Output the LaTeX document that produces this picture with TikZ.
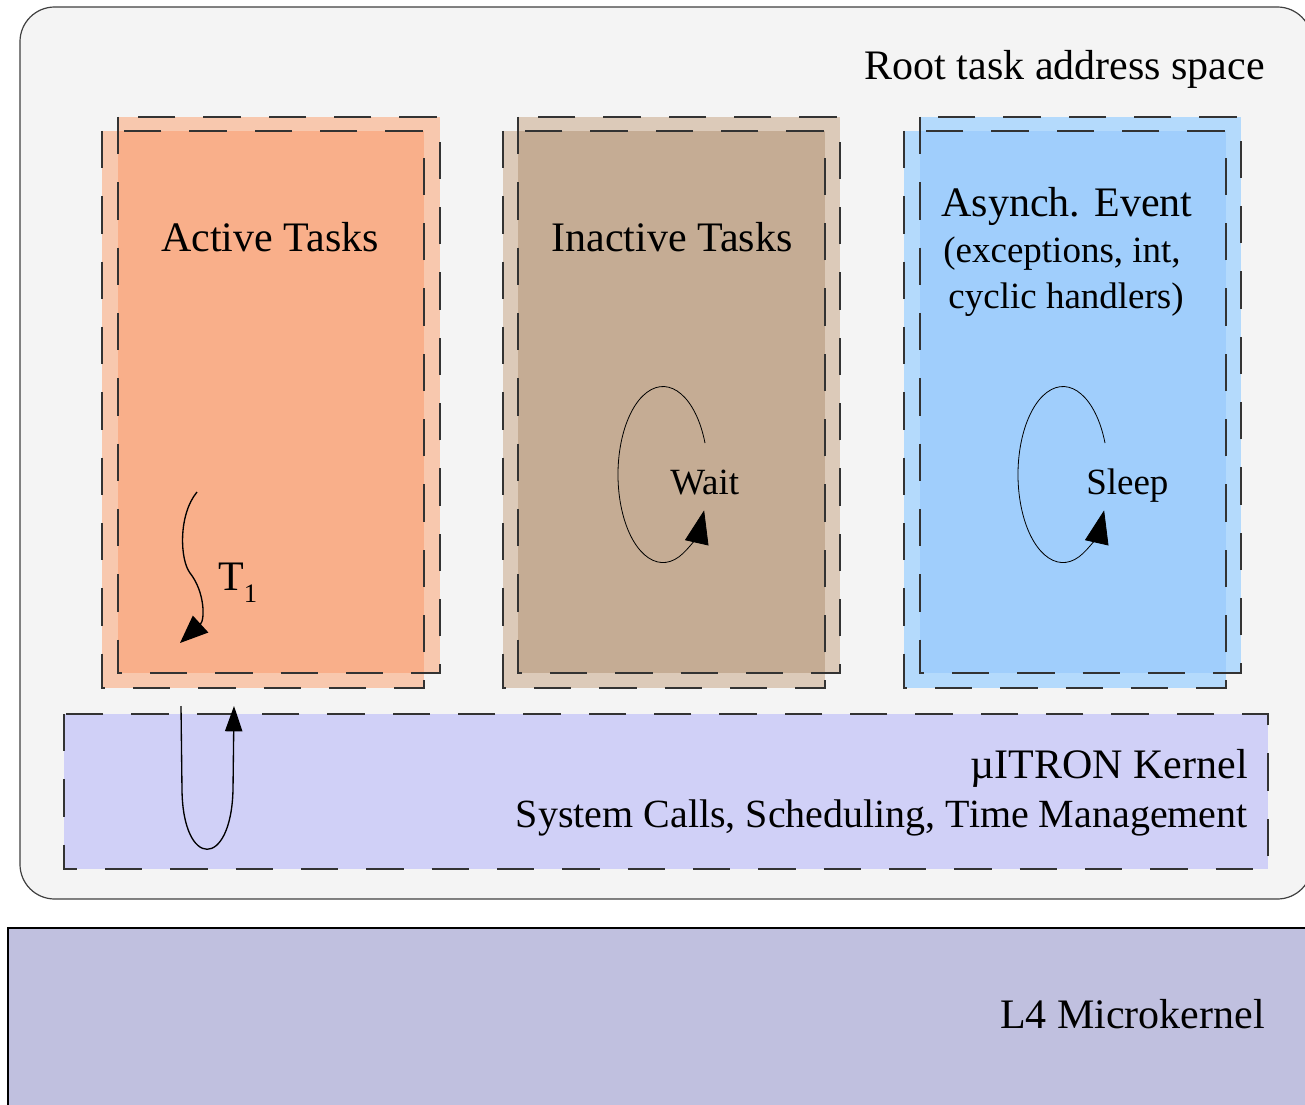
\documentclass[tikz,border=0pt]{standalone}
\usepackage{fontspec}
\setmainfont{Liberation Serif}
\usetikzlibrary{arrows.meta}
\definecolor{outerbg}{HTML}{F4F4F4}
\definecolor{activeL}{HTML}{F8C8AE}
\definecolor{activeD}{HTML}{F9AF8A}
\definecolor{inactL}{HTML}{DCCAB9}
\definecolor{inactD}{HTML}{C5AC94}
\definecolor{asyncL}{HTML}{B4DAFC}
\definecolor{asyncD}{HTML}{A0CEFC}
\definecolor{kernelbg}{HTML}{D0D0F7}
\definecolor{lfourbg}{HTML}{C0C0DF}
\begin{document}
\begin{tikzpicture}[x=0.75pt,y=-0.75pt,
  dashbox/.style={draw=black!80, line width=0.9pt, dash pattern=on 28pt off 21pt},
  bigtext/.style={inner sep=0pt, font=\fontsize{31.5pt}{36pt}\selectfont},
  midtext/.style={inner sep=0pt, font=\fontsize{30pt}{35pt}\selectfont},
  smalltext/.style={inner sep=0pt, font=\fontsize{27.75pt}{32pt}\selectfont},
  flow/.style={line width=1pt, -{Triangle[length=21pt,width=17pt]}},
  loopline/.style={line width=0.6pt, -{Triangle[length=25pt,width=18pt]}}]
\useasboundingbox (0,0) rectangle (1305,1105);
% outer address space
\filldraw[fill=outerbg, draw=black!75, line width=0.9pt, rounded corners=26pt] (20,7) rectangle (1312,899);
% L4 microkernel
\filldraw[fill=lfourbg, draw=black, line width=0.9pt] (8,928) rectangle (1330,1130);
% kernel box
\fill[kernelbg] (64,714) rectangle (1268,869);
\draw[dashbox] (64,714) rectangle (1268,869);
% Active tasks column
\fill[activeL] (118,117) rectangle (440,673);
\fill[activeL] (102,131) rectangle (424,688);
\fill[activeD] (118,131) rectangle (424,673);
\draw[dashbox] (118,117) rectangle (440,673);
\draw[dashbox] (102,131) rectangle (424,688);
% Inactive tasks column
\fill[inactL] (518,117) rectangle (840,673);
\fill[inactL] (503,131) rectangle (825,688);
\fill[inactD] (518,131) rectangle (825,673);
\draw[dashbox] (518,117) rectangle (840,673);
\draw[dashbox] (503,131) rectangle (825,688);
% Asynch column
\fill[asyncL] (920,117) rectangle (1241,673);
\fill[asyncL] (904,131) rectangle (1226,688);
\fill[asyncD] (920,131) rectangle (1226,673);
\draw[dashbox] (920,117) rectangle (1241,673);
\draw[dashbox] (904,131) rectangle (1226,688);
% texts
\node[bigtext, anchor=base east] (root) at (1265,80) {Root task address space};
\node[bigtext, anchor=base] (active) at (270,252) {Active Tasks};
\node[bigtext, anchor=base] (inactive) at (672,252) {Inactive Tasks};
\node[bigtext, anchor=base] (async) at (1067,217) {Asynch. Event};
\node[smalltext, anchor=base] (asynctwo) at (1062,263) {(exceptions, int,};
\node[smalltext, anchor=base] (asyncthree) at (1066,309) {cyclic handlers)};
\node[smalltext, anchor=base west] (wait) at (670,494) {Wait};
\node[smalltext, anchor=base west] (sleep) at (1086,494) {Sleep};
\node[bigtext, anchor=base east] (kern) at (1248,778) {µITRON Kernel};
\node[midtext, anchor=base east] (calls) at (1248,827) {System Calls, Scheduling, Time Management};
\node[bigtext, anchor=base east] (lfour) at (1265,1028) {L4 Microkernel};
\node[bigtext, anchor=base west] (tone) at (218,590) {T\raisebox{-9.5pt}{\fontsize{20pt}{22pt}\selectfont 1}};
% T1 flow
\coordinate (tones) at (197,492);
\coordinate (tonee) at (180,643);
\draw[flow] (tones) .. controls (178,515) and (180,560) .. (190,573) .. controls (205,592) and (205,620) .. (tonee);
% wait loop
\coordinate (waits) at (705,443);
\draw[loopline] (waits) arc[start angle=21, end angle=336, x radius=33.75pt, y radius=66pt];
% sleep loop
\coordinate (sleeps) at (1105,443);
\draw[loopline] (sleeps) arc[start angle=21, end angle=336, x radius=33.75pt, y radius=66pt];
% system call U-turn
\coordinate (us) at (181,706);
\coordinate (ue) at (234,706);
\draw[line width=1pt, -{Triangle[length=19pt,width=13pt]}] (us) -- (182,790) .. controls (183,869) and (231,869) .. (233,790) -- (ue);
\end{tikzpicture}
\end{document}
